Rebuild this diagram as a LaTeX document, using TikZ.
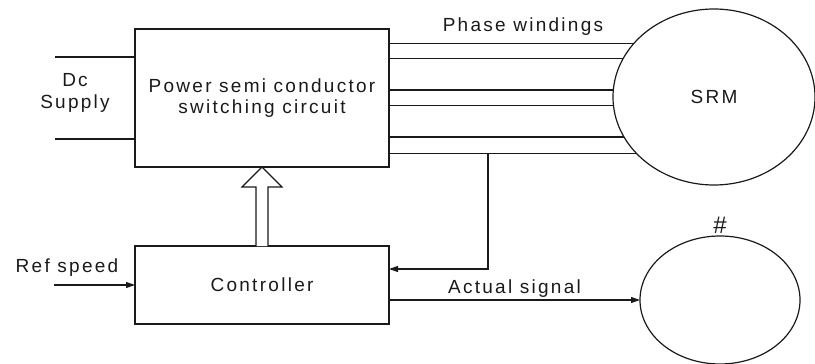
\documentclass[tikz,border=0pt]{standalone}
\usepackage{fontspec}
\setmainfont{Liberation Sans}[LetterSpace=12]
\usetikzlibrary{arrows.meta,shapes.geometric,positioning}
\definecolor{ink}{HTML}{1A1A1A}
\tikzset{
  wire/.style={line width=1.1pt, draw=ink},
  sig/.style={wire, -{Triangle[length=9pt,width=6pt]}},
  block/.style={
    draw=ink,
    line width=1.3pt,
    fill=white,
    align=center,
    inner sep=0pt,
    outer sep=0pt,
    text=ink,
    font=\fontsize{19}{21}\selectfont
  },
  machine/.style={ellipse, draw=ink, line width=1.2pt, inner sep=0pt, outer sep=0pt,
    text=ink, font=\fontsize{19}{21}\selectfont},
  tag/.style={text=ink, align=center, inner sep=1pt, font=\fontsize{19}{22}\selectfont},
  hollow/.style={draw=ink, line width=1.2pt, fill=white, line join=miter}
}

\begin{document}
\begin{tikzpicture}[x=1pt, y=-1pt]
  \useasboundingbox (0,0) rectangle (815,364);

  \node[block, minimum width=254pt, minimum height=138pt] (power) at (262,98)
    {Power semi conductor\\switching circuit};
  \node[block, minimum width=254pt, minimum height=78pt] (ctrl) at (262,285) {Controller};
  \node[machine, minimum width=202pt, minimum height=176pt] (srm) at (714,97) {SRM};
  \node[machine, minimum width=160pt, minimum height=128pt] (load) at (720,300) {};
  \node[tag, font=\fontsize{24}{26}\selectfont, above=1pt of load] (hash) {\#};

  % dc supply
  \coordinate (dcp) at (55,57);
  \coordinate (dcn) at (55,139);
  \draw[wire] (dcp) -- (power.west |- dcp);
  \draw[wire] (dcn) -- (power.west |- dcn);
  \node[tag] (dc) at (75,93) {Dc\\Supply};

  % phase windings
  \foreach \a in {146,157,176,185,204,216}
    \draw[wire] (power.east |- srm.\a) -- (srm.\a);
  \node[tag] (phase) at (523,27) {Phase windings};

  % gate signals
  \draw[hollow] ([xshift=-6pt]ctrl.north) -- ([xshift=-6pt, yshift=-20pt]power.south)
    -- ([xshift=-20pt, yshift=-20pt]power.south) -- (power.south)
    -- ([xshift=20pt, yshift=-20pt]power.south) -- ([xshift=6pt, yshift=-20pt]power.south)
    -- ([xshift=6pt]ctrl.north);

  \coordinate (refin) at (54,285);
  \draw[sig] (refin) -- (ctrl.west);
  \node[tag] (reflbl) at (67,268) {Ref speed};

  \coordinate (tap) at ([xshift=99pt]power.east |- srm.216);
  \draw[sig] (tap) |- ([yshift=16pt]ctrl.east);
  \draw[sig] (ctrl.east |- load.west) -- node[tag, above=1pt] (act) {Actual signal} (load.west);
\end{tikzpicture}
\end{document}
